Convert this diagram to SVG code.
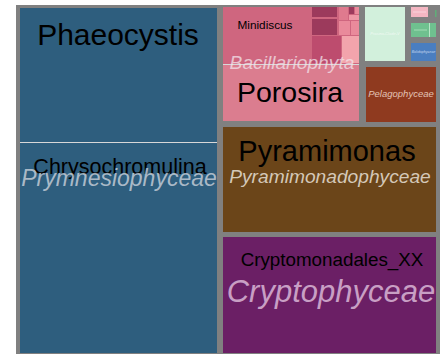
<svg xmlns="http://www.w3.org/2000/svg" width="440" height="354" viewBox="0 0 440 354">
<style>
.lab{font-family:"Liberation Sans",Arial,sans-serif;fill:#000;text-anchor:middle}
.cls{font-family:"Liberation Sans",Arial,sans-serif;font-style:italic;text-anchor:middle}
.sep{stroke:#d8d8d8;stroke-width:1}
</style>
<rect x="0" y="0" width="440" height="354" fill="#ffffff"/>
<rect x="16" y="5" width="424" height="349" fill="#808080"/>
<g id="prymnesiophyceae">
<rect x="20" y="8" width="197" height="345" fill="#2e5e7e"/>
<line class="sep" x1="20" y1="142.5" x2="217" y2="142.5"/>
<text class="lab" x="118" y="45" font-size="30">Phaeocystis</text>
<text class="lab" x="120" y="174" font-size="21.5">Chrysochromulina</text>
<text class="cls" x="119" y="186" font-size="23" fill="#c2cbd5" fill-opacity="0.85">Prymnesiophyceae</text>
</g>
<g id="bacillariophyta">
<rect x="223" y="7" width="136" height="114" fill="#cf667f"/>
<rect x="223" y="65" width="136" height="56" fill="#db7d8f"/>
<line class="sep" x1="223" y1="64.5" x2="359" y2="64.5"/>
<rect x="312" y="7" width="25" height="10" fill="#9c3a5c"/>
<rect x="312" y="19" width="25" height="16" fill="#9c3a5c"/>
<rect x="312" y="36" width="29" height="27" fill="#bd4c6e"/>
<rect x="342" y="36" width="17" height="27" fill="#f2a4ac"/>
<rect x="339" y="7" width="9" height="13" fill="#df7a8e"/>
<rect x="349" y="7" width="5" height="7" fill="#9c3a5c"/>
<rect x="355" y="7" width="4" height="7" fill="#e98a9b"/>
<rect x="349" y="15" width="10" height="5" fill="#ee98a6"/>
<rect x="339" y="21" width="11" height="14" fill="#e98a9b"/>
<rect x="351" y="21" width="8" height="14" fill="#e98a9b"/>
<text class="lab" x="265" y="29" font-size="11.8">Minidiscus</text>
<text class="lab" x="290" y="102" font-size="28.5">Porosira</text>
<text class="cls" x="292" y="69" font-size="19.2" fill="#f2e4ea" fill-opacity="0.75">Bacillariophyta</text>
</g>
<g id="prasino">
<rect x="365" y="7" width="40" height="54" fill="#d2f0dc"/>
<text class="cls" x="385" y="35" font-size="4" fill="#ffffff" fill-opacity="0.7">Prasino-Clade-V</text>
</g>
<g id="small-pink">
<rect x="411" y="7" width="17" height="10" fill="#f4b6c2"/>
<line x1="413" y1="12" x2="426" y2="12" stroke="#fbe3e8" stroke-width="0.7"/>
</g>
<g id="small-green">
<rect x="435" y="10" width="1.5" height="7" fill="#5fae78"/>
</g>
<g id="green">
<rect x="411" y="23" width="25" height="14" fill="#6fc08f"/>
<line x1="429.5" y1="23" x2="429.5" y2="37" stroke="#b8e6c8" stroke-width="1"/>
<line x1="414" y1="30" x2="427" y2="30" stroke="#c6ecd2" stroke-width="0.6"/>
</g>
<g id="bolidophyceae">
<rect x="411" y="43" width="25" height="18" fill="#4a7ec0"/>
<text class="cls" x="423.5" y="53" font-size="3.6" fill="#c9d8ee">Bolidophyceae</text>
</g>
<g id="pelagophyceae">
<rect x="366" y="67" width="70" height="55" fill="#8f3a1f"/>
<text class="cls" x="401" y="97" font-size="9.5" fill="#e2c2b5">Pelagophyceae</text>
</g>
<g id="pyramimonadophyceae">
<rect x="223" y="127" width="213" height="105" fill="#6b4519"/>
<text class="lab" x="327" y="161" font-size="29">Pyramimonas</text>
<text class="cls" x="330" y="183" font-size="19.2" fill="#d4c8b8">Pyramimonadophyceae</text>
</g>
<g id="cryptophyceae">
<rect x="223" y="237" width="213" height="116" fill="#6b1f65"/>
<text class="lab" x="332" y="266" font-size="18.8">Cryptomonadales_XX</text>
<text class="cls" x="331" y="302" font-size="31" fill="#c89fc4">Cryptophyceae</text>
</g>
<g id="connectors"></g>
</svg>
